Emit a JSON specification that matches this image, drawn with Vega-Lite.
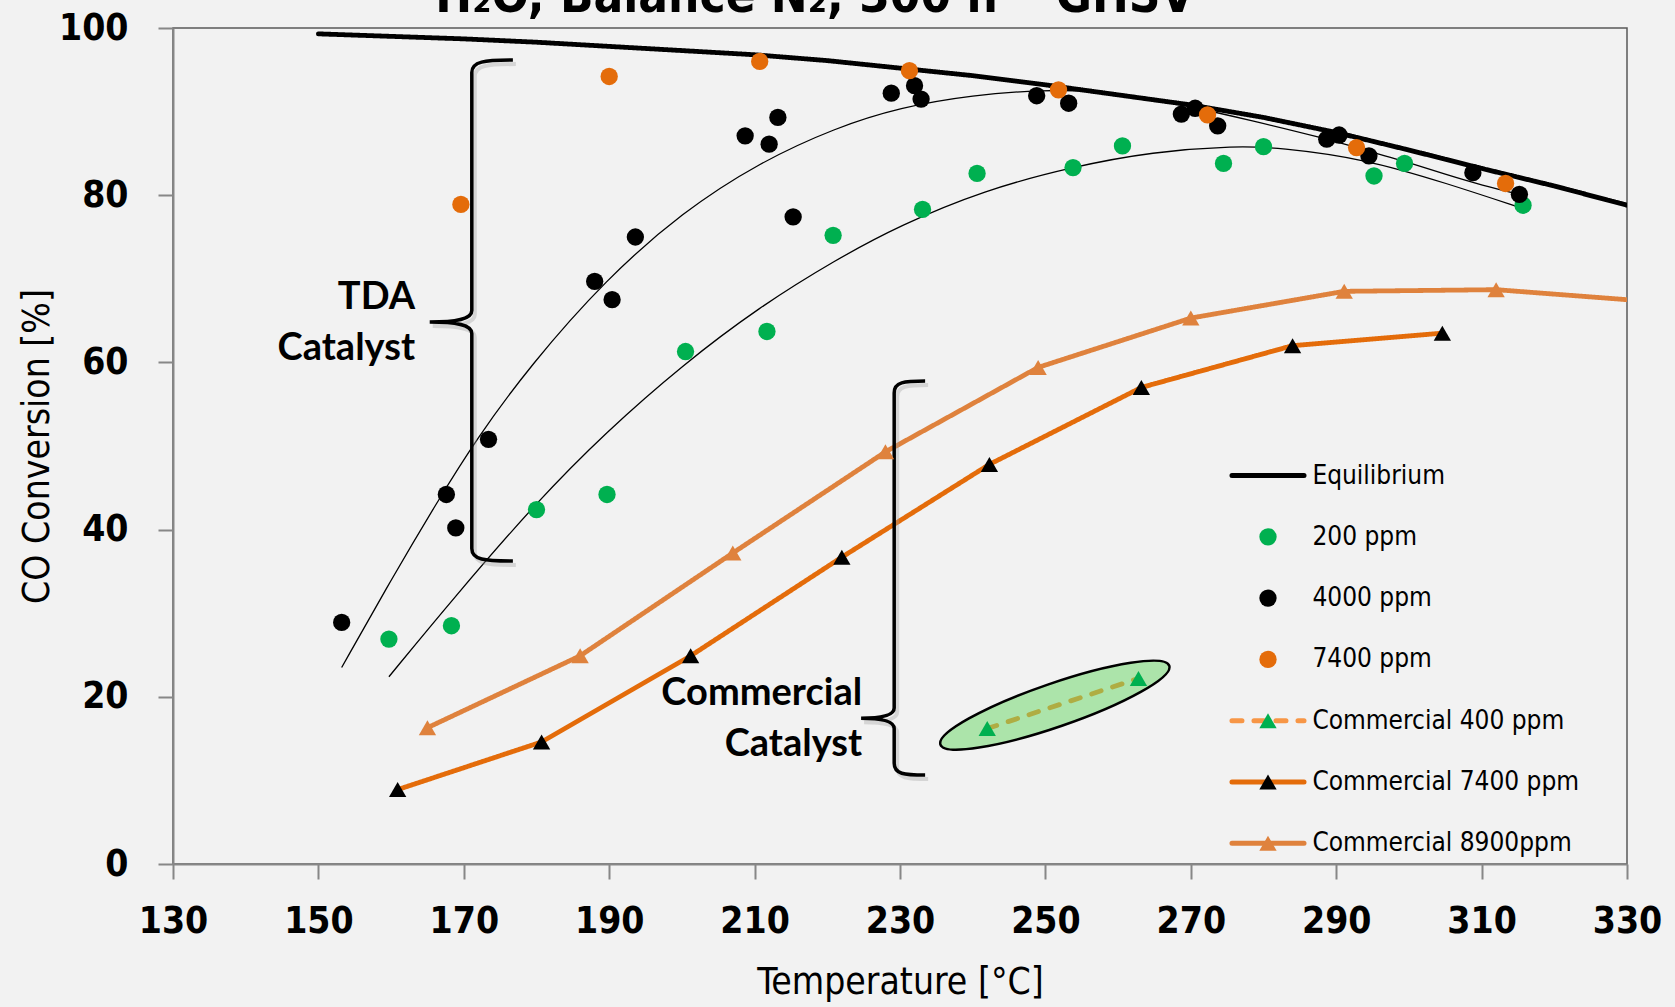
{
  "$schema": "https://vega.github.io/schema/vega-lite/v6.json",
  "width": 1454,
  "height": 836,
  "autosize": "none",
  "padding": {"left": 173, "top": 28, "right": 48, "bottom": 143},
  "background": "#f2f2f2",
  "title": {
    "text": "H₂O, Balance N₂, 300 h⁻¹ GHSV",
    "font": "DejaVu Sans Condensed, Liberation Sans, sans-serif",
    "fontWeight": "bold",
    "fontSize": 49,
    "color": "#000000",
    "anchor": "middle",
    "frame": "group",
    "dx": -85,
    "baseline": "alphabetic",
    "offset": -52
  },
  "config": {
    "view": {"stroke": "#595959", "strokeWidth": 1.5},
    "axis": {
      "grid": false,
      "domainColor": "#878787",
      "domainWidth": 2,
      "tickColor": "#878787",
      "tickWidth": 2,
      "tickSize": 15,
      "labelFont": "DejaVu Sans Condensed, Liberation Sans, sans-serif",
      "labelFontSize": 37,
      "labelFontWeight": "bold",
      "labelColor": "#000000",
      "titleFont": "DejaVu Sans Condensed, Liberation Sans, sans-serif",
      "titleFontSize": 37,
      "titleFontWeight": "normal",
      "titleColor": "#000000"
    }
  },
  "datasets": {
    "lines": [
      {"temp": 150, "conv": 99.3, "series": "Equilibrium"},
      {"temp": 160, "conv": 99.0, "series": "Equilibrium"},
      {"temp": 170, "conv": 98.7, "series": "Equilibrium"},
      {"temp": 180, "conv": 98.3, "series": "Equilibrium"},
      {"temp": 190, "conv": 97.8, "series": "Equilibrium"},
      {"temp": 200, "conv": 97.3, "series": "Equilibrium"},
      {"temp": 210, "conv": 96.8, "series": "Equilibrium"},
      {"temp": 220, "conv": 96.1, "series": "Equilibrium"},
      {"temp": 230, "conv": 95.2, "series": "Equilibrium"},
      {"temp": 240, "conv": 94.3, "series": "Equilibrium"},
      {"temp": 250, "conv": 93.2, "series": "Equilibrium"},
      {"temp": 260, "conv": 92.0, "series": "Equilibrium"},
      {"temp": 270, "conv": 90.8, "series": "Equilibrium"},
      {"temp": 280, "conv": 89.3, "series": "Equilibrium"},
      {"temp": 290, "conv": 87.5, "series": "Equilibrium"},
      {"temp": 300, "conv": 85.4, "series": "Equilibrium"},
      {"temp": 310, "conv": 83.2, "series": "Equilibrium"},
      {"temp": 320, "conv": 81.1, "series": "Equilibrium"},
      {"temp": 330, "conv": 78.8, "series": "Equilibrium"},
      {"temp": 242.0, "conv": 16.2, "series": "Commercial 400 ppm"},
      {"temp": 262.8, "conv": 22.2, "series": "Commercial 400 ppm"},
      {"temp": 160.9, "conv": 8.9, "series": "Commercial 7400 ppm"},
      {"temp": 180.7, "conv": 14.6, "series": "Commercial 7400 ppm"},
      {"temp": 201.2, "conv": 24.9, "series": "Commercial 7400 ppm"},
      {"temp": 222.0, "conv": 36.7, "series": "Commercial 7400 ppm"},
      {"temp": 242.3, "conv": 47.8, "series": "Commercial 7400 ppm"},
      {"temp": 263.2, "conv": 57.0, "series": "Commercial 7400 ppm"},
      {"temp": 284.0, "conv": 62.0, "series": "Commercial 7400 ppm"},
      {"temp": 304.6, "conv": 63.5, "series": "Commercial 7400 ppm"},
      {"temp": 165.0, "conv": 16.3, "series": "Commercial 8900ppm"},
      {"temp": 186.0, "conv": 24.9, "series": "Commercial 8900ppm"},
      {"temp": 207.0, "conv": 37.2, "series": "Commercial 8900ppm"},
      {"temp": 228.0, "conv": 49.3, "series": "Commercial 8900ppm"},
      {"temp": 249.0, "conv": 59.4, "series": "Commercial 8900ppm"},
      {"temp": 270.0, "conv": 65.3, "series": "Commercial 8900ppm"},
      {"temp": 291.1, "conv": 68.5, "series": "Commercial 8900ppm"},
      {"temp": 312.0, "conv": 68.7, "series": "Commercial 8900ppm"},
      {"temp": 333.0, "conv": 67.3, "series": "Commercial 8900ppm"}
    ],
    "fits": [
      {"temp": 153.2, "conv": 23.5, "fit": "4000 ppm fit"},
      {"temp": 160.0, "conv": 34.0, "fit": "4000 ppm fit"},
      {"temp": 166.4, "conv": 43.4, "fit": "4000 ppm fit"},
      {"temp": 171.7, "conv": 50.8, "fit": "4000 ppm fit"},
      {"temp": 179.1, "conv": 59.6, "fit": "4000 ppm fit"},
      {"temp": 189.6, "conv": 70.0, "fit": "4000 ppm fit"},
      {"temp": 200.1, "conv": 78.0, "fit": "4000 ppm fit"},
      {"temp": 210.6, "conv": 83.9, "fit": "4000 ppm fit"},
      {"temp": 221.2, "conv": 88.1, "fit": "4000 ppm fit"},
      {"temp": 230.0, "conv": 90.5, "fit": "4000 ppm fit"},
      {"temp": 240.0, "conv": 92.0, "fit": "4000 ppm fit"},
      {"temp": 250.0, "conv": 92.6, "fit": "4000 ppm fit"},
      {"temp": 256.0, "conv": 92.5, "fit": "4000 ppm fit"},
      {"temp": 262.0, "conv": 91.9, "fit": "4000 ppm fit"},
      {"temp": 270.0, "conv": 90.6, "fit": "4000 ppm fit"},
      {"temp": 278.0, "conv": 89.0, "fit": "4000 ppm fit"},
      {"temp": 288.0, "conv": 86.9, "fit": "4000 ppm fit"},
      {"temp": 294.0, "conv": 85.4, "fit": "4000 ppm fit"},
      {"temp": 300.0, "conv": 83.9, "fit": "4000 ppm fit"},
      {"temp": 305.0, "conv": 82.5, "fit": "4000 ppm fit"},
      {"temp": 310.0, "conv": 81.2, "fit": "4000 ppm fit"},
      {"temp": 315.7, "conv": 80.0, "fit": "4000 ppm fit"},
      {"temp": 159.7, "conv": 22.4, "fit": "200 ppm fit"},
      {"temp": 168.5, "conv": 31.7, "fit": "200 ppm fit"},
      {"temp": 180.1, "conv": 43.4, "fit": "200 ppm fit"},
      {"temp": 189.6, "conv": 51.7, "fit": "200 ppm fit"},
      {"temp": 200.1, "conv": 59.7, "fit": "200 ppm fit"},
      {"temp": 210.6, "conv": 66.6, "fit": "200 ppm fit"},
      {"temp": 221.2, "conv": 72.3, "fit": "200 ppm fit"},
      {"temp": 230.0, "conv": 76.4, "fit": "200 ppm fit"},
      {"temp": 241.6, "conv": 80.6, "fit": "200 ppm fit"},
      {"temp": 253.7, "conv": 83.4, "fit": "200 ppm fit"},
      {"temp": 264.7, "conv": 85.2, "fit": "200 ppm fit"},
      {"temp": 276.3, "conv": 85.9, "fit": "200 ppm fit"},
      {"temp": 282.1, "conv": 85.7, "fit": "200 ppm fit"},
      {"temp": 293.7, "conv": 84.4, "fit": "200 ppm fit"},
      {"temp": 305.3, "conv": 81.4, "fit": "200 ppm fit"},
      {"temp": 315.7, "conv": 78.4, "fit": "200 ppm fit"}
    ],
    "points": [
      {"temp": 159.7, "conv": 26.9, "item": "200 ppm"},
      {"temp": 168.3, "conv": 28.5, "item": "200 ppm"},
      {"temp": 180.0, "conv": 42.4, "item": "200 ppm"},
      {"temp": 189.7, "conv": 44.2, "item": "200 ppm"},
      {"temp": 200.5, "conv": 61.3, "item": "200 ppm"},
      {"temp": 211.7, "conv": 63.7, "item": "200 ppm"},
      {"temp": 220.8, "conv": 75.2, "item": "200 ppm"},
      {"temp": 233.1, "conv": 78.3, "item": "200 ppm"},
      {"temp": 240.6, "conv": 82.6, "item": "200 ppm"},
      {"temp": 253.8, "conv": 83.3, "item": "200 ppm"},
      {"temp": 260.6, "conv": 85.9, "item": "200 ppm"},
      {"temp": 274.5, "conv": 83.8, "item": "200 ppm"},
      {"temp": 280.0, "conv": 85.8, "item": "200 ppm"},
      {"temp": 295.2, "conv": 82.3, "item": "200 ppm"},
      {"temp": 299.4, "conv": 83.8, "item": "200 ppm"},
      {"temp": 315.7, "conv": 78.8, "item": "200 ppm"},
      {"temp": 153.2, "conv": 28.9, "item": "4000 ppm"},
      {"temp": 167.6, "conv": 44.2, "item": "4000 ppm"},
      {"temp": 168.9, "conv": 40.2, "item": "4000 ppm"},
      {"temp": 173.4, "conv": 50.8, "item": "4000 ppm"},
      {"temp": 188.0, "conv": 69.7, "item": "4000 ppm"},
      {"temp": 190.4, "conv": 67.5, "item": "4000 ppm"},
      {"temp": 193.6, "conv": 75.0, "item": "4000 ppm"},
      {"temp": 208.7, "conv": 87.1, "item": "4000 ppm"},
      {"temp": 212.0, "conv": 86.1, "item": "4000 ppm"},
      {"temp": 213.2, "conv": 89.3, "item": "4000 ppm"},
      {"temp": 215.3, "conv": 77.4, "item": "4000 ppm"},
      {"temp": 228.8, "conv": 92.2, "item": "4000 ppm"},
      {"temp": 232.0, "conv": 93.1, "item": "4000 ppm"},
      {"temp": 232.9, "conv": 91.5, "item": "4000 ppm"},
      {"temp": 248.8, "conv": 91.9, "item": "4000 ppm"},
      {"temp": 253.2, "conv": 91.0, "item": "4000 ppm"},
      {"temp": 268.7, "conv": 89.7, "item": "4000 ppm"},
      {"temp": 270.6, "conv": 90.4, "item": "4000 ppm"},
      {"temp": 273.7, "conv": 88.3, "item": "4000 ppm"},
      {"temp": 288.7, "conv": 86.7, "item": "4000 ppm"},
      {"temp": 290.4, "conv": 87.2, "item": "4000 ppm"},
      {"temp": 294.5, "conv": 84.7, "item": "4000 ppm"},
      {"temp": 308.8, "conv": 82.7, "item": "4000 ppm"},
      {"temp": 315.2, "conv": 80.1, "item": "4000 ppm"},
      {"temp": 169.6, "conv": 78.9, "item": "7400 ppm"},
      {"temp": 190.0, "conv": 94.2, "item": "7400 ppm"},
      {"temp": 210.7, "conv": 96.0, "item": "7400 ppm"},
      {"temp": 231.3, "conv": 94.9, "item": "7400 ppm"},
      {"temp": 251.8, "conv": 92.6, "item": "7400 ppm"},
      {"temp": 272.3, "conv": 89.6, "item": "7400 ppm"},
      {"temp": 292.8, "conv": 85.7, "item": "7400 ppm"},
      {"temp": 313.3, "conv": 81.4, "item": "7400 ppm"},
      {"temp": 242.0, "conv": 16.2, "item": "Commercial 400 ppm"},
      {"temp": 262.8, "conv": 22.2, "item": "Commercial 400 ppm"},
      {"temp": 160.9, "conv": 8.9, "item": "Commercial 7400 ppm"},
      {"temp": 180.7, "conv": 14.6, "item": "Commercial 7400 ppm"},
      {"temp": 201.2, "conv": 24.9, "item": "Commercial 7400 ppm"},
      {"temp": 222.0, "conv": 36.7, "item": "Commercial 7400 ppm"},
      {"temp": 242.3, "conv": 47.8, "item": "Commercial 7400 ppm"},
      {"temp": 263.2, "conv": 57.0, "item": "Commercial 7400 ppm"},
      {"temp": 284.0, "conv": 62.0, "item": "Commercial 7400 ppm"},
      {"temp": 304.6, "conv": 63.5, "item": "Commercial 7400 ppm"},
      {"temp": 165.0, "conv": 16.3, "item": "Commercial 8900ppm"},
      {"temp": 186.0, "conv": 24.9, "item": "Commercial 8900ppm"},
      {"temp": 207.0, "conv": 37.2, "item": "Commercial 8900ppm"},
      {"temp": 228.0, "conv": 49.3, "item": "Commercial 8900ppm"},
      {"temp": 249.0, "conv": 59.4, "item": "Commercial 8900ppm"},
      {"temp": 270.0, "conv": 65.3, "item": "Commercial 8900ppm"},
      {"temp": 291.1, "conv": 68.5, "item": "Commercial 8900ppm"},
      {"temp": 312.0, "conv": 68.7, "item": "Commercial 8900ppm"}
    ],
    "ellipse": [{"temp": 251.3, "conv": 19.0}],
    "braceTDA": [{"temp": 171.1, "conv": 66.2}],
    "braceCom": [{"temp": 229.2, "conv": 34.2}],
    "notes": [
      {"temp": 163.3, "conv": 66.4, "label": "TDA\nCatalyst"},
      {"temp": 224.8, "conv": 19.0, "label": "Commercial\nCatalyst"}
    ]
  },
  "encoding": {
    "x": {
      "field": "temp",
      "type": "quantitative",
      "scale": {"domain": [130, 330], "nice": false, "zero": false},
      "axis": {
        "title": "Temperature [°C]",
        "values": [130, 150, 170, 190, 210, 230, 250, 270, 290, 310, 330],
        "labelPadding": 24,
        "titlePadding": 25,
        "labelFlush": false,
        "labelOverlap": false
      }
    },
    "y": {
      "field": "conv",
      "type": "quantitative",
      "scale": {"domain": [0, 100], "nice": false},
      "axis": {
        "title": "CO Conversion [%]",
        "values": [0, 20, 40, 60, 80, 100],
        "labelPadding": 30,
        "titlePadding": 2,
        "labelFlush": false,
        "labelOverlap": false
      }
    }
  },
  "layer": [
    {
      "data": {"name": "fits"},
      "mark": {"type": "line", "color": "#000000", "strokeWidth": 1.3, "interpolate": "basis"},
      "encoding": {"detail": {"field": "fit", "type": "nominal"}}
    },
    {
      "data": {"name": "lines"},
      "mark": {"type": "line", "strokeWidth": 4.8, "strokeCap": "round", "clip": true},
      "encoding": {
        "stroke": {
          "field": "series",
          "type": "nominal",
          "scale": {
            "domain": ["Equilibrium", "200 ppm", "4000 ppm", "7400 ppm", "Commercial 400 ppm", "Commercial 7400 ppm", "Commercial 8900ppm", " "],
            "range": ["#000000", "transparent", "transparent", "transparent", "#F79646", "#E46C0A", "#DF823D", "transparent"]
          },
          "legend": {
            "orient": "none", "legendX": 1082, "legendY": 434.5, "title": null, "padding": 0,
            "symbolType": "M-4.16,0L4.16,0", "symbolSize": 300, "symbolStrokeWidth": 5,
            "labelFont": "DejaVu Sans Condensed, Liberation Sans, sans-serif", "labelFontSize": 26, "labelColor": "transparent",
            "labelLimit": 400, "labelOffset": 31.4, "rowPadding": 35.3,
            "encode": {"symbols": {"update": {"strokeCap": {"value": "round"}}}}
          }
        },
        "strokeDash": {
          "field": "series",
          "type": "nominal",
          "scale": {
            "domain": ["Equilibrium", "200 ppm", "4000 ppm", "7400 ppm", "Commercial 400 ppm", "Commercial 7400 ppm", "Commercial 8900ppm", " "],
            "range": [[1, 0], [1, 0], [1, 0], [1, 0], [10, 12], [1, 0], [1, 0], [1, 0]]
          },
          "legend": {
            "orient": "none", "legendX": 1082, "legendY": 434.5, "title": null, "padding": 0,
            "symbolType": "M-4.16,0L4.16,0", "symbolSize": 300, "symbolStrokeWidth": 5,
            "labelFont": "DejaVu Sans Condensed, Liberation Sans, sans-serif", "labelFontSize": 26, "labelColor": "transparent",
            "labelLimit": 400, "labelOffset": 31.4, "rowPadding": 35.3,
            "encode": {"symbols": {"update": {"strokeCap": {"value": "round"}}}}
          }
        }
      }
    },
    {
      "data": {"name": "ellipse"},
      "mark": {
        "type": "point",
        "shape": "M-1,0C-1,-0.0994,-0.5523,-0.18,0,-0.18C0.5523,-0.18,1,-0.0994,1,0C1,0.0994,0.5523,0.18,0,0.18C-0.5523,0.18,-1,0.0994,-1,0Z",
        "size": 58564,
        "angle": 341,
        "filled": true,
        "fill": "#43CF3E",
        "fillOpacity": 0.4,
        "stroke": "#000000",
        "strokeWidth": 2.5,
        "opacity": 1
      }
    },
    {
      "data": {"name": "braceTDA"},
      "mark": {
        "type": "point",
        "shape": "M0.164,-1C0.05,-1,0,-0.995,0,-0.95L0,0C0,0.035,-0.06,0.046,-0.168,0.046C-0.06,0.046,0,0.057,0,0.092L0,0.95C0,0.995,0.05,1,0.164,1",
        "size": 251001, "filled": false, "stroke": "#a0a0a0", "strokeOpacity": 0.35, "strokeWidth": 4,
        "opacity": 1, "xOffset": 3, "yOffset": 4
      }
    },
    {
      "data": {"name": "braceTDA"},
      "mark": {
        "type": "point",
        "shape": "M0.164,-1C0.05,-1,0,-0.995,0,-0.95L0,0C0,0.035,-0.06,0.046,-0.168,0.046C-0.06,0.046,0,0.057,0,0.092L0,0.95C0,0.995,0.05,1,0.164,1",
        "size": 251001, "filled": false, "stroke": "#000000", "strokeWidth": 3.5, "opacity": 1
      }
    },
    {
      "data": {"name": "braceCom"},
      "mark": {
        "type": "point",
        "shape": "M0.157,-1C0.05,-1,0,-0.995,0,-0.94L0,0.66C0,0.7,-0.07,0.712,-0.168,0.712C-0.07,0.712,0,0.724,0,0.764L0,0.94C0,0.995,0.05,1,0.157,1",
        "size": 155236, "filled": false, "stroke": "#a0a0a0", "strokeOpacity": 0.35, "strokeWidth": 4,
        "opacity": 1, "xOffset": 3, "yOffset": 4
      }
    },
    {
      "data": {"name": "braceCom"},
      "mark": {
        "type": "point",
        "shape": "M0.157,-1C0.05,-1,0,-0.995,0,-0.94L0,0.66C0,0.7,-0.07,0.712,-0.168,0.712C-0.07,0.712,0,0.724,0,0.764L0,0.94C0,0.995,0.05,1,0.157,1",
        "size": 155236, "filled": false, "stroke": "#000000", "strokeWidth": 3.5, "opacity": 1
      }
    },
    {
      "data": {"name": "notes"},
      "mark": {
        "type": "text", "align": "right", "baseline": "alphabetic", "lineBreak": "\n", "lineHeight": 51,
        "font": "Lato", "fontWeight": "bold", "fontSize": 38, "color": "#000000"
      },
      "encoding": {"text": {"field": "label", "type": "nominal"}}
    },
    {
      "data": {"name": "points"},
      "mark": {"type": "point", "filled": true, "size": 300, "opacity": 1, "strokeWidth": 0},
      "encoding": {
        "fill": {
          "field": "item",
          "type": "nominal",
          "scale": {
            "domain": ["Equilibrium", "200 ppm", "4000 ppm", "7400 ppm", "Commercial 400 ppm", "Commercial 7400 ppm", "Commercial 8900ppm"],
            "range": ["transparent", "#00B050", "#000000", "#E46C0A", "#00B050", "#000000", "#DF823D"]
          },
          "legend": {
            "orient": "none", "legendX": 1082, "legendY": 434.5, "title": null, "padding": 0,
            "symbolSize": 300, "symbolStrokeWidth": 0,
            "labelFont": "DejaVu Sans Condensed, Liberation Sans, sans-serif", "labelFontSize": 26, "labelColor": "#000000",
            "labelLimit": 400, "labelOffset": 31.4, "rowPadding": 35.3
          }
        },
        "shape": {
          "field": "item",
          "type": "nominal",
          "scale": {
            "domain": ["Equilibrium", "200 ppm", "4000 ppm", "7400 ppm", "Commercial 400 ppm", "Commercial 7400 ppm", "Commercial 8900ppm"],
            "range": ["circle", "circle", "circle", "circle", "triangle-up", "triangle-up", "triangle-up"]
          },
          "legend": {
            "orient": "none", "legendX": 1082, "legendY": 434.5, "title": null, "padding": 0,
            "symbolSize": 300, "symbolStrokeWidth": 0,
            "labelFont": "DejaVu Sans Condensed, Liberation Sans, sans-serif", "labelFontSize": 26, "labelColor": "#000000",
            "labelLimit": 400, "labelOffset": 31.4, "rowPadding": 35.3
          }
        }
      }
    }
  ]
}
